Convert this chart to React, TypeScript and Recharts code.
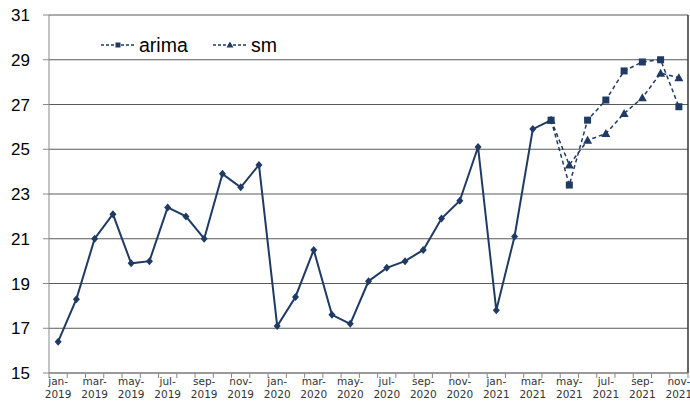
import { ComposedChart, Line, XAxis, YAxis, CartesianGrid, ReferenceLine } from "recharts";

const months = ["jan", "feb", "mar", "apr", "may", "jun", "jul", "aug", "sep", "oct", "nov", "dec"];
const years = [2019, 2020, 2021];

// observed series, jan-2019 .. apr-2021
const actual = [
  16.4, 18.3, 21.0, 22.1, 19.9, 20.0, 22.4, 22.0, 21.0, 23.9, 23.3, 24.3,
  17.1, 18.4, 20.5, 17.6, 17.2, 19.1, 19.7, 20.0, 20.5, 21.9, 22.7, 25.1,
  17.8, 21.1, 25.9, 26.3,
];
// forecasts, apr-2021 .. nov-2021
const arima = [26.3, 23.4, 26.3, 27.2, 28.5, 28.9, 29.0, 26.9];
const sm = [26.3, 24.3, 25.4, 25.7, 26.6, 27.3, 28.4, 28.2];
const yTicks = [15, 17, 19, 21, 23, 25, 27, 29, 31];

const labels: string[] = [];
years.forEach((y) => months.forEach((m) => labels.push(`${m}-${y}`)));
labels.length = 35;

const fcStart = actual.length - 1;
const data = labels.map((label, i) => ({
  i,
  label,
  actual: i < actual.length ? actual[i] : null,
  arima: i >= fcStart ? arima[i - fcStart] : null,
  sm: i >= fcStart ? sm[i - fcStart] : null,
}));

const xTicks: number[] = [];
for (let k = -0.5; k <= 34.5; k += 0.5) xTicks.push(k);

const navy = "#1f3a63";

const Diamond = (p: any) => {
  if (p.value == null) return null;
  const { cx, cy } = p;
  return <path key={p.index} d={`M${cx},${cy - 4}L${cx + 3.5},${cy}L${cx},${cy + 4}L${cx - 3.5},${cy}Z`} fill={navy} />;
};
const Square = (p: any) => {
  if (p.value == null) return null;
  return <rect key={p.index} x={p.cx - 3.5} y={p.cy - 3.5} width={7} height={7} fill={navy} />;
};
const Triangle = (p: any) => {
  if (p.value == null) return null;
  const { cx, cy } = p;
  return <path key={p.index} d={`M${cx},${cy - 4.5}L${cx + 4.5},${cy + 3.5}L${cx - 4.5},${cy + 3.5}Z`} fill={navy} />;
};

const XTick = (props: any) => {
  const { x, y, payload } = props;
  const v = payload.value;
  if (!Number.isInteger(v)) {
    return <line x1={x} x2={x} y1={y} y2={y + 5} stroke="#888" />;
  }
  if (v % 2 !== 0) return null;
  const [m, yr] = labels[v].split("-");
  return (
    <text x={x} y={y} textAnchor="middle" fill="#333" fontSize={10.5} fontFamily="DejaVu Sans">
      <tspan x={x} dy={12}>{m}-</tspan>
      <tspan x={x} dy={12.5}>{yr}</tspan>
    </text>
  );
};

const LegendBox = () => (
  <svg width={200} height={30} style={{ position: "absolute", left: 100, top: 30, overflow: "visible" }}>
    <line x1={1} x2={35} y1={15} y2={15} stroke={navy} strokeDasharray="3 2" strokeWidth={1.5} />
    <rect x={15.5} y={12.5} width={5} height={5} fill={navy} />
    <text x={39} y={22} fontSize={19.5} fontFamily="Liberation Sans, Arial" fill="#000">arima</text>
    <line x1={113} x2={147} y1={15} y2={15} stroke={navy} strokeDasharray="3 2" strokeWidth={1.5} />
    <path d="M130,11.5L133.5,17.5L126.5,17.5Z" fill={navy} />
    <text x={151} y={22} fontSize={19.5} fontFamily="Liberation Sans, Arial" fill="#000">sm</text>
  </svg>
);

export default function App() {
  return (
    <div style={{ position: "absolute", left: 0, top: 0, width: 690, height: 407, background: "#fff" }}>
      <ComposedChart width={690} height={407} data={data} margin={{ top: 15, right: 2, bottom: 0, left: 0 }}>
        <CartesianGrid vertical={false} stroke="#5a5a5a" />
        <XAxis
          dataKey="i"
          type="number"
          domain={[-0.5, 34.5]}
          ticks={xTicks}
          interval={0}
          tick={<XTick />}
          tickLine={false}
          tickSize={0}
          tickMargin={0}
          height={34}
          axisLine={{ stroke: "#888" }}
        />
        <YAxis
          domain={[15, 31]}
          ticks={yTicks}
          interval={0}
          width={49}
          tickSize={6}
          tickMargin={13}
          tick={{ fontSize: 17, fill: "#000", fontFamily: "Liberation Sans, Arial" }}
          axisLine={{ stroke: "#888" }}
          tickLine={{ stroke: "#888" }}
        />
        <ReferenceLine x={34.5} stroke="#333" strokeWidth={1.5} />
        <Line dataKey="arima" stroke={navy} strokeWidth={1.5} strokeDasharray="4 3" dot={<Square />} isAnimationActive={false} />
        <Line dataKey="sm" stroke={navy} strokeWidth={1.5} strokeDasharray="4 3" dot={<Triangle />} isAnimationActive={false} />
        <Line dataKey="actual" stroke={navy} strokeWidth={2} dot={<Diamond />} isAnimationActive={false} />
      </ComposedChart>
      <LegendBox />
    </div>
  );
}
